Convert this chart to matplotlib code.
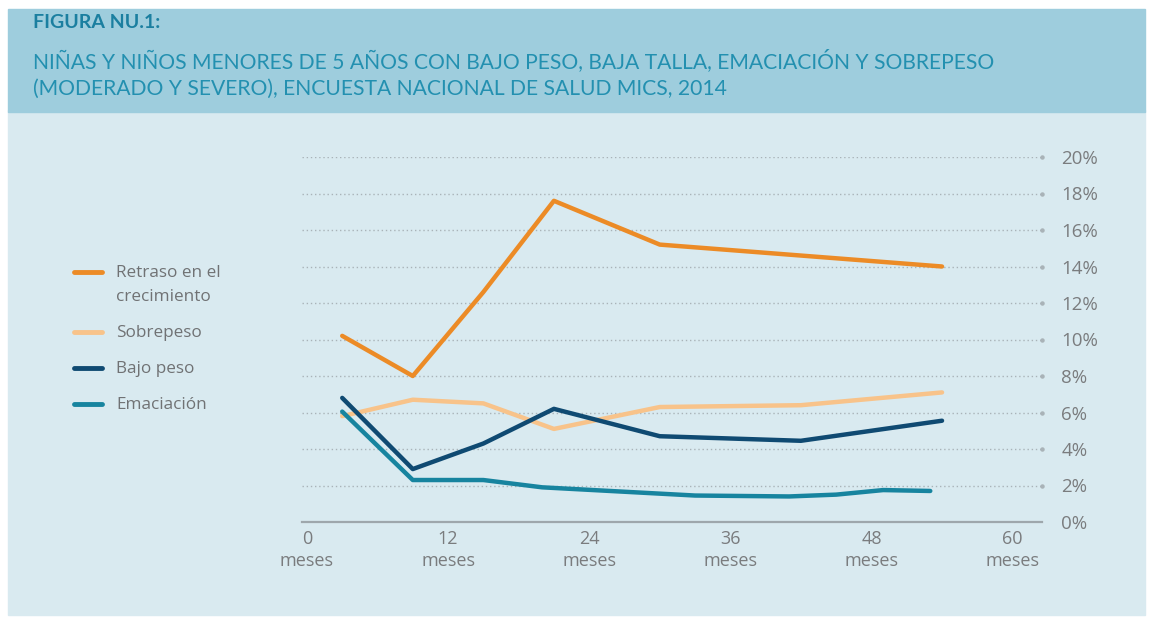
import matplotlib.pyplot as plt
from matplotlib.patches import Rectangle
from matplotlib.lines import Line2D

plt.rcParams['font.family'] = ['Open Sans', 'DejaVu Sans']

# data (age in months, percent)
meses = [3, 9, 15, 21, 30, 42, 54]
retraso = [10.2, 8.0, 12.6, 17.6, 15.2, 14.6, 14.0]
sobrepeso = [5.8, 6.7, 6.5, 5.1, 6.3, 6.4, 7.1]
bajo_peso = [6.8, 2.9, 4.3, 6.2, 4.7, 4.45, 5.55]
meses_ema = [3, 9, 15, 20, 33, 41, 45, 49, 53]
emaciacion = [6.05, 2.3, 2.3, 1.9, 1.45, 1.4, 1.5, 1.75, 1.7]

x_ticks = [0, 12, 24, 36, 48, 60]
y_ticks = [0, 2, 4, 6, 8, 10, 12, 14, 16, 18, 20]

series = [
    ('Retraso en el\ncrecimiento', '#ec8b26'),
    ('Sobrepeso', '#f8c38a'),
    ('Bajo peso', '#0f4a72'),
    ('Emaciación', '#17849f'),
]

W, H = 1149, 618
fig = plt.figure(figsize=(W / 100, H / 100), dpi=100)
fig.patch.set_facecolor('white')

# panel backgrounds
fig.add_artist(Rectangle((8 / W, 1 - 615 / H), 1137 / W, 505 / H,
                         transform=fig.transFigure, color='#d9eaf0', zorder=0))
fig.add_artist(Rectangle((8 / W, 1 - 112 / H), 1137 / W, 103 / H,
                         transform=fig.transFigure, color='#9ecddd', zorder=0))

title_font = ['Lato', 'DejaVu Sans']
fig.text(33 / W, 1 - 23 / H, 'FIGURA NU.1:', color='#1b7fa0', fontsize=14,
         fontweight='bold', family=title_font, va='center')
fig.text(33 / W, 1 - 61 / H,
         'NIÑAS Y NIÑOS MENORES DE 5 AÑOS CON BAJO PESO, BAJA TALLA, EMACIACIÓN Y SOBREPESO',
         color='#2390b0', fontsize=15.2, family=title_font, va='center')
fig.text(33 / W, 1 - 89 / H,
         '(MODERADO Y SEVERO), ENCUESTA NACIONAL DE SALUD MICS, 2014',
         color='#2390b0', fontsize=15.2, family=title_font, va='center')

ax = fig.add_axes([302 / W, 1 - 522 / H, 740 / W, 365 / H])
ax.set_facecolor('none')

ax.plot(meses, retraso, color=series[0][1], lw=3.2, solid_capstyle='round', zorder=3)
ax.plot(meses, sobrepeso, color=series[1][1], lw=3.2, solid_capstyle='round', zorder=3)
ax.plot(meses, bajo_peso, color=series[2][1], lw=3.2, solid_capstyle='round', zorder=4)
ax.plot(meses_ema, emaciacion, color=series[3][1], lw=3.2, solid_capstyle='round', zorder=4)

ax.set_xlim(-0.42, 62.5)
ax.set_ylim(0, 20)

for v in y_ticks[1:]:
    ax.axhline(v, color='#a9b3b8', lw=1.0, ls=(0, (1, 2)), zorder=1)
    ax.plot([62.5], [v], marker='o', ms=2.2, color='#a9b3b8', clip_on=False, zorder=1)

ax.set_xticks(x_ticks)
ax.set_xticklabels([f'{m}\nmeses' for m in x_ticks], color='#7a7c7e',
                   fontsize=13, linespacing=1.25)
ax.set_yticks(y_ticks)
ax.set_yticklabels([f'{v}%' for v in y_ticks], color='#7a7c7e', fontsize=13.5)
ax.yaxis.tick_right()
ax.tick_params(axis='x', length=0, pad=6)
ax.tick_params(axis='y', length=0, pad=14)
for t in ax.get_yticklabels():
    t.set_horizontalalignment('left')

for s in ['top', 'left', 'right']:
    ax.spines[s].set_visible(False)
ax.spines['bottom'].set_color('#9ea7ac')
ax.spines['bottom'].set_linewidth(1.6)

# legend drawn by hand to match the stacked layout
leg_y = [272, 332, 368, 404]
for (label, col), yy in zip(series, leg_y):
    fig.add_artist(Line2D([74 / W, 102 / W], [1 - yy / H, 1 - yy / H],
                          transform=fig.transFigure, color=col, lw=3.5,
                          solid_capstyle='round'))
    fig.text(116 / W, 1 - (yy - 7) / H, label, color='#707274', fontsize=12.3,
             va='top', linespacing=1.7)

fig.savefig('out.png', dpi=100)
